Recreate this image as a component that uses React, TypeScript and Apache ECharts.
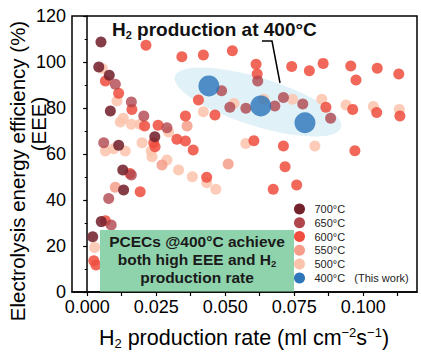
import React, { useEffect, useRef } from "react";
import * as echarts from "echarts";

const FONT = "'Liberation Sans', Arial, sans-serif";

const xLabelValues = [0, 0.025, 0.05, 0.075, 0.1];
const xTickValues = [0, 0.0125, 0.025, 0.0375, 0.05, 0.0625, 0.075, 0.0875, 0.1, 0.1125];
const legendNames = ["700°C", "650°C", "600°C", "550°C", "500°C", "400°C"];

const s700 = [[0.005, 108.7], [0.0042, 97.8], [0.008, 94.2], [0.0084, 78.7], [0.0245, 67.5], [0.0114, 63.8], [0.0129, 53], [0.0132, 44.3], [0.0051, 30.6], [0.002, 24]];
const s650 = [[0.0102, 90.3], [0.016, 82.6], [0.0205, 76.5], [0.0289, 71.4], [0.006, 64.9], [0.016, 50.9], [0.0078, 40.7], [0.0087, 29.1], [0.0487, 87.5], [0.0517, 80.3], [0.0575, 79.9], [0.0618, 91.7], [0.068, 80.9], [0.0711, 84.6], [0.0781, 81.7], [0.0882, 75.5]];
const s600 = [[0.0213, 107.3], [0.0343, 102.3], [0.0421, 103], [0.0526, 104.9], [0.0612, 99], [0.0616, 94.8], [0.0741, 98], [0.0805, 96.2], [0.0855, 99.4], [0.0955, 98.3], [0.0974, 92.2], [0.1051, 97.3], [0.1129, 94.8], [0.0066, 91.7], [0.0114, 86.4], [0.0162, 79.4], [0.0208, 72.2], [0.0257, 72.5], [0.0241, 64.9], [0.0325, 66.4], [0.0356, 65.7], [0.0356, 76.5], [0.0403, 83.5], [0.0463, 77], [0.0865, 80.3], [0.0962, 79.4], [0.1049, 78], [0.1133, 76.5], [0.0604, 65.8], [0.0711, 63.5], [0.097, 61.4], [0.0384, 61.7], [0.0246, 63.2], [0.0433, 49.9], [0.0717, 54.5], [0.0674, 44.7], [0.0759, 46.5], [0.0155, 51.5], [0.0192, 43.6], [0.0066, 31], [0.0024, 13.6], [0.0032, 11.7]];
const s550 = [[0.0362, 72.2], [0.0271, 55.2], [0.0102, 45.5], [0.0511, 55.7]];
const s500 = [[0.0055, 97.2], [0.0108, 83], [0.016, 72.9], [0.012, 73.9], [0.0192, 72.9], [0.0131, 75.5], [0.0295, 69.6], [0.0066, 61.3], [0.0096, 62.3], [0.0138, 61.3], [0.0199, 64.9], [0.0232, 61.3], [0.0235, 58.8], [0.0289, 57.4], [0.0331, 53], [0.0421, 78.4], [0.0532, 82], [0.064, 83.8], [0.0744, 83.8], [0.085, 83.8], [0.0938, 81.3], [0.1037, 80.6], [0.1131, 79.4], [0.0575, 64.6], [0.0825, 63.5], [0.0381, 50.1], [0.0433, 47.5], [0.0466, 44.7], [0.0027, 19.4]];
const s400 = [[0.0441, 89.6], [0.0629, 80.9], [0.0789, 73.6]];

export default function App() {
  const ref = useRef<HTMLDivElement>(null);
  useEffect(() => {
    if (!ref.current) return;
    const chart = echarts.init(ref.current, null, { renderer: "svg" });
    const mk = (name: string, data: number[][], color: string, size: number, opacity: number) => ({
      name,
      type: "scatter",
      data,
      symbol: "circle",
      symbolSize: size,
      itemStyle: { color, opacity },
    });
    chart.setOption({
      animation: false,
      textStyle: { fontFamily: FONT },
      grid: { left: 72, right: 4, top: 16, bottom: 64, show: true, borderColor: "#000", borderWidth: 1.5, backgroundColor: "transparent" },
      xAxis: {
        type: "value",
        min: -0.0055,
        max: 0.1195,
        splitLine: { show: false },
        axisLine: { lineStyle: { color: "#000", width: 1.5 } },
        axisTick: { customValues: xTickValues, length: 4, lineStyle: { color: "#000", width: 1.2 } },
        axisLabel: { customValues: xLabelValues, formatter: (v: number) => v.toFixed(3), fontSize: 18, color: "#000", margin: 6, fontFamily: FONT },
      },
      yAxis: {
        type: "value",
        min: 0,
        max: 120,
        interval: 20,
        splitLine: { show: false },
        axisLine: { show: true, lineStyle: { color: "#000", width: 1.5 } },
        axisTick: { show: true, length: 4, lineStyle: { color: "#000", width: 1.2 } },
        minorTick: { show: true, splitNumber: 2, length: 2.5, lineStyle: { color: "#000", width: 1 } },
        axisLabel: { fontSize: 18, color: "#000", margin: 6, fontFamily: FONT },
      },
      legend: {
        orient: "vertical",
        left: 294,
        top: 203.4,
        padding: 0,
        itemWidth: 20,
        itemHeight: 11,
        itemGap: 2.8,
        icon: "circle",
        data: legendNames,
        itemStyle: { opacity: 1 },
        formatter: (n: string) => (n === "400°C" ? n + "   (This work)" : n),
        textStyle: { fontSize: 11, color: "#222", fontFamily: FONT },
      },
      graphic: [
        {
          type: "ellipse",
          x: 258,
          y: 102,
          rotation: -0.3,
          z: 0,
          shape: { cx: 0, cy: 0, rx: 87, ry: 24 },
          style: { fill: "rgba(186,226,240,0.45)" },
        },
        {
          type: "polyline",
          z: 5,
          shape: { points: [[262, 41], [272, 41], [280, 83]] },
          style: { stroke: "#000", lineWidth: 1.5, fill: null },
        },
        {
          type: "text",
          x: 112,
          y: 29,
          z: 5,
          style: {
            text: "{a|H}{s|2}{a| production at 400°C}",
            textAlign: "left", align: "left",
            textVerticalAlign: "middle", verticalAlign: "middle",
            rich: {
              a: { fontSize: 19, fontWeight: "bold", lineHeight: 22, fontFamily: FONT, fill: "#111" },
              s: { fontSize: 11, fontWeight: "bold", lineHeight: 10, verticalAlign: "bottom", fontFamily: FONT, fill: "#111" },
            },
          },
        },
        {
          type: "rect",
          z: 10,
          shape: { x: 100, y: 230, width: 194, height: 61.5 },
          style: { fill: "#8fd3ad" },
        },
        {
          type: "text",
          x: 197,
          y: 241,
          z: 11,
          style: { text: "PCECs @400°C achieve", font: `bold 15.5px ${FONT}`, fill: "#1a1a1a", textAlign: "center", align: "center", textVerticalAlign: "middle", verticalAlign: "middle" },
        },
        {
          type: "text",
          x: 197,
          y: 259,
          z: 11,
          style: {
            text: "{a|both high EEE and H}{s|2}",
            textAlign: "center", align: "center", textVerticalAlign: "middle", verticalAlign: "middle",
            rich: {
              a: { fontSize: 15.5, fontWeight: "bold", lineHeight: 18, fontFamily: FONT, fill: "#1a1a1a" },
              s: { fontSize: 9.5, fontWeight: "bold", lineHeight: 9, verticalAlign: "bottom", fontFamily: FONT, fill: "#1a1a1a" },
            },
          },
        },
        {
          type: "text",
          x: 197,
          y: 277,
          z: 11,
          style: { text: "production rate", font: `bold 15.5px ${FONT}`, fill: "#1a1a1a", textAlign: "center", align: "center", textVerticalAlign: "middle", verticalAlign: "middle" },
        },
        {
          type: "text",
          x: 244,
          y: 338,
          style: {
            text: "{a|H}{s|2}{a| production rate (ml cm}{p|−2}{a|s}{p|−1}{a|)}",
            textAlign: "center", align: "center", textVerticalAlign: "middle", verticalAlign: "middle",
            rich: {
              a: { fontSize: 21.5, lineHeight: 24, fontFamily: FONT, fill: "#000" },
              s: { fontSize: 13, lineHeight: 12, verticalAlign: "bottom", fontFamily: FONT, fill: "#000" },
              p: { fontSize: 13, lineHeight: 12, verticalAlign: "top", fontFamily: FONT, fill: "#000" },
            },
          },
        },
        {
          type: "text",
          x: 17,
          y: 171,
          rotation: Math.PI / 2,
          style: { text: "Electrolysis energy efficiency (%)", font: `20.5px ${FONT}`, fill: "#000", textAlign: "center", align: "center", textVerticalAlign: "middle", verticalAlign: "middle" },
        },
        {
          type: "text",
          x: 38,
          y: 124,
          rotation: Math.PI / 2,
          style: { text: "(EEE)", font: `20.5px ${FONT}`, fill: "#000", textAlign: "center", align: "center", textVerticalAlign: "middle", verticalAlign: "middle" },
        },
      ],
      series: [
        mk("500°C", s500, "#fbc3ab", 11, 0.85),
        mk("550°C", s550, "#f59d89", 11, 0.85),
        mk("600°C", s600, "#ef4e3e", 11, 0.85),
        mk("650°C", s650, "#b0454d", 11, 0.8),
        mk("700°C", s700, "#74232d", 11, 0.88),
        mk("400°C", s400, "#2d76ba", 21, 0.82),
      ],
    });
    return () => chart.dispose();
  }, []);
  return <div ref={ref} style={{ width: 421, height: 356, position: "absolute", left: 0, top: 0 }} />;
}
